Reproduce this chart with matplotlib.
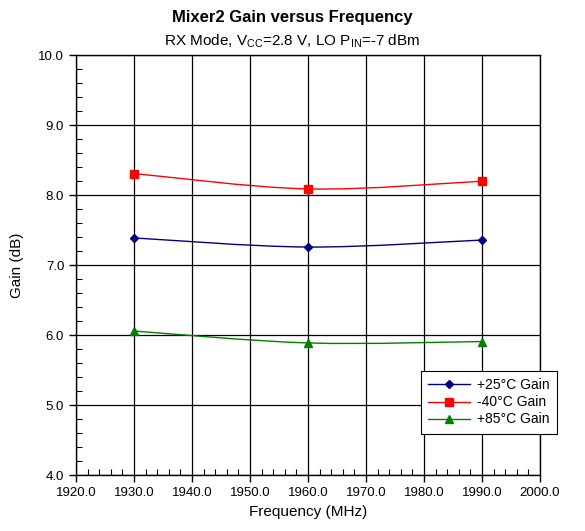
import numpy as np
import matplotlib.pyplot as plt
from matplotlib.path import Path
from matplotlib.patches import PathPatch
from matplotlib.lines import Line2D
from matplotlib.ticker import MultipleLocator, FormatStrFormatter

plt.rcParams['font.family'] = ['Liberation Sans', 'DejaVu Sans']

# Datos
freq = [1930.0, 1960.0, 1990.0]
gain_25 = [7.39, 7.26, 7.36]
gain_m40 = [8.31, 8.09, 8.20]
gain_85 = [6.06, 5.89, 5.91]

series = [
    ('+25°C Gain', gain_25, '#000080', 'D', 4.5),
    ('-40°C Gain', gain_m40, '#FF0000', 's', 5.5),
    ('+85°C Gain', gain_85, '#008000', '^', 5.5),
]


# Curva suavizada tipo Excel (Bezier por tramos)
def smooth_path(x, y):
    pts = np.column_stack([x, y])
    ext = np.vstack([pts[0], pts, pts[-1]])
    verts = [pts[0]]
    codes = [Path.MOVETO]
    for i in range(len(pts) - 1):
        p0, p1, p2, p3 = ext[i], ext[i + 1], ext[i + 2], ext[i + 3]
        c1 = p1 + (p2 - p0) / 6.0
        c2 = p2 - (p3 - p1) / 6.0
        verts += [c1, c2, p2]
        codes += [Path.CURVE4] * 3
    return Path(verts, codes)


fig = plt.figure(figsize=(5.85, 5.31), dpi=100)
ax = fig.add_axes([0.130, 0.105, 0.793, 0.791])

handles = []
for label, vals, color, mk, ms in series:
    ax.add_patch(PathPatch(smooth_path(freq, vals), facecolor='none',
                           edgecolor=color, linewidth=1.0, zorder=3))
    ax.plot(freq, vals, linestyle='none', marker=mk, markersize=ms,
            color=color, zorder=4)
    handles.append(Line2D([], [], color=color, marker=mk, markersize=ms,
                          linewidth=1.0, label=label))

ax.set_xlim(1920, 2000)
ax.set_ylim(4.0, 10.0)
ax.xaxis.set_major_locator(MultipleLocator(10))
ax.xaxis.set_minor_locator(MultipleLocator(2))
ax.yaxis.set_major_locator(MultipleLocator(1))
ax.yaxis.set_minor_locator(MultipleLocator(0.2))
ax.xaxis.set_major_formatter(FormatStrFormatter('%.1f'))
ax.yaxis.set_major_formatter(FormatStrFormatter('%.1f'))
ax.tick_params(which='major', direction='out', length=5, width=1,
               labelsize=9.5, color='black')
ax.tick_params(which='minor', direction='in', length=4, width=0.8)
ax.grid(True, which='major', color='black', linewidth=0.9)
for s in ax.spines.values():
    s.set_linewidth(1.0)

ax.set_xlabel('Frequency (MHz)', fontsize=11, labelpad=4)
ax.set_ylabel('Gain (dB)', fontsize=11, labelpad=10)

fig.text(0.5, 0.967, 'Mixer2 Gain versus Frequency', ha='center',
         va='center', fontsize=12, fontweight='bold')
fig.text(0.5, 0.922, r'RX Mode, V$_{\mathregular{CC}}$=2.8 V, LO P$_{\mathregular{IN}}$=-7 dBm',
         ha='center', va='center', fontsize=11)

leg = ax.legend(handles=handles, loc='lower right', bbox_to_anchor=(1.037, 0.098),
                borderaxespad=0, fontsize=10, frameon=True, fancybox=False,
                edgecolor='black', framealpha=1, borderpad=0.55,
                labelspacing=0.22, handlelength=3.0, handletextpad=0.5)
leg.get_frame().set_linewidth(0.8)
leg.set_clip_on(False)

fig.savefig('out.png', dpi=100)
